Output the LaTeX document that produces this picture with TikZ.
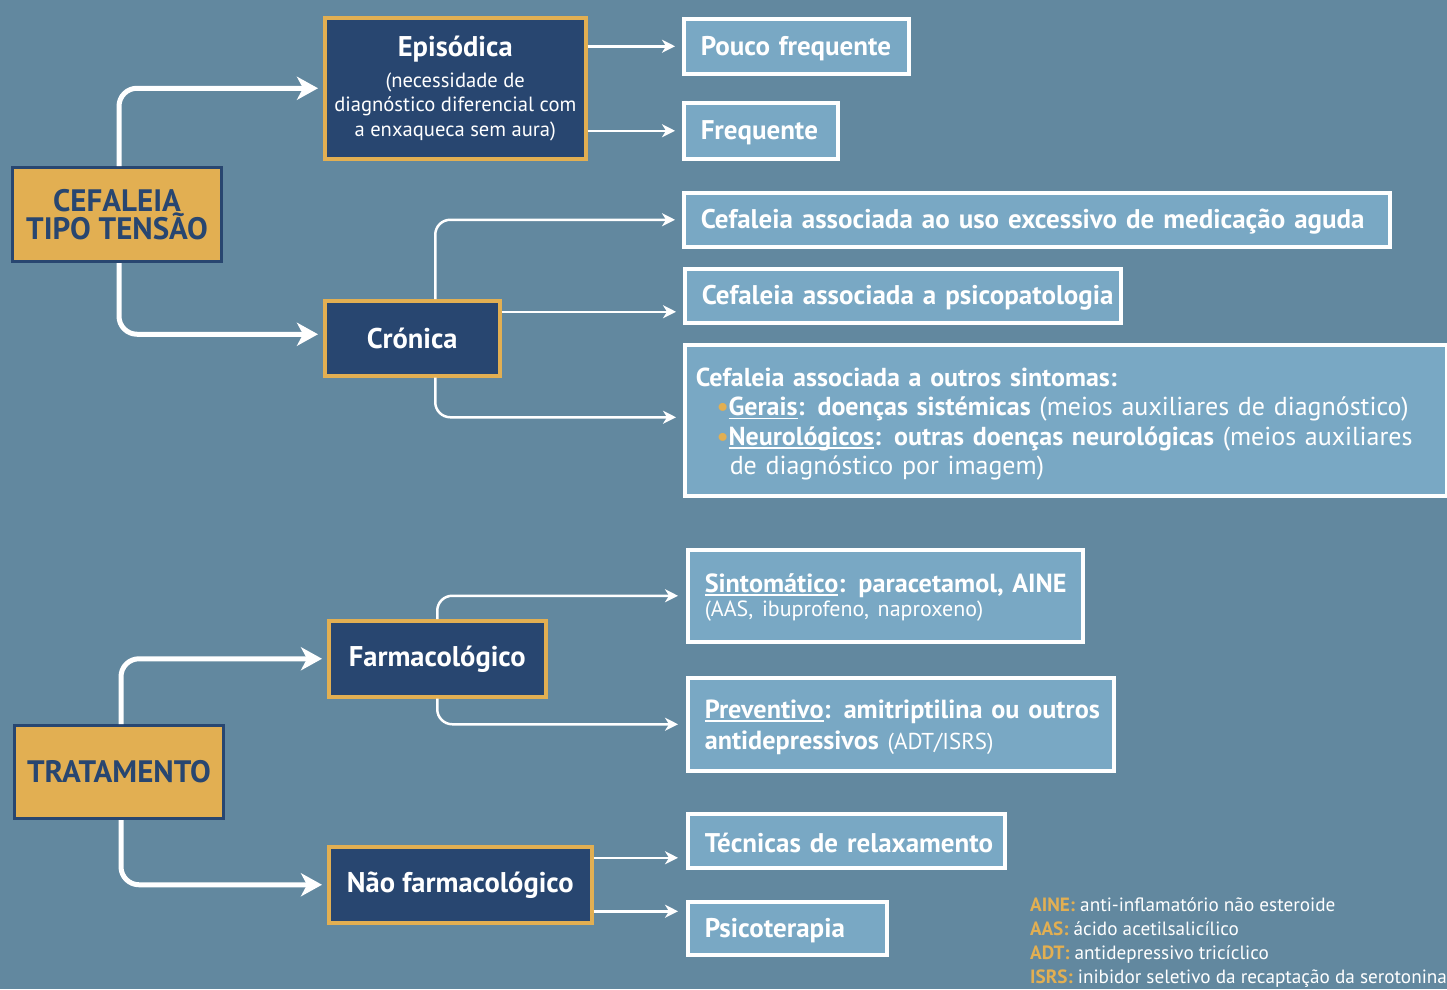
\documentclass[tikz,border=0pt]{standalone}
\usepackage{fontspec}
\setmainfont{PT Sans}
\usetikzlibrary{arrows.meta,calc}
\definecolor{bgc}{HTML}{62889F}
\definecolor{dark}{HTML}{284670}
\definecolor{gold}{HTML}{E2AF52}
\definecolor{lbox}{HTML}{79A8C4}
\tikzset{
  mainbox/.style={draw=dark, line width=3pt, fill=gold, text=dark, anchor=north west, align=center,
    font=\bfseries\fontsize{31}{27}\selectfont, inner sep=0pt},
  subbox/.style={draw=gold, line width=3.5pt, fill=dark, text=white, anchor=north west, align=center,
    font=\bfseries\fontsize{28.5}{30}\selectfont, inner sep=0pt},
  leaf/.style={draw=white, line width=3.5pt, fill=lbox, text=white, anchor=north west, align=left,
    inner xsep=17pt, inner ysep=0pt, font=\bfseries\fontsize{27}{29.5}\selectfont},
  leafm/.style={leaf, font=\bfseries\fontsize{26.2}{29.5}\selectfont},
  bigarrow/.style={draw=white, line width=5pt, rounded corners=18pt, shorten >=5pt,
    -{Stealth[length=21pt,width=23pt,inset=6pt]}},
  smallarrow/.style={draw=white, line width=2.5pt, rounded corners=15pt, shorten >=7pt,
    -{Stealth[length=13pt,width=13pt,inset=4pt]}},
}
\newcommand{\litetxt}[1]{{\mdseries #1}}
\newcommand{\goldbul}{{\color{gold}\textbullet}}
\newcommand{\fixul}[1]{\setbox0\hbox{#1}\rlap{\rule[-3.5pt]{\wd0}{1.3pt}}\box0}
\newcommand{\dnstrut}[1]{\rule{0pt}{#1}}
\begin{document}
\begin{tikzpicture}[x=1pt,y=-1pt]
\useasboundingbox (0,0) rectangle (1447,989);
\fill[bgc] (0,0) rectangle (1447,989);

% main boxes
\node[mainbox, minimum width=209pt, minimum height=94pt] (cef) at (11,166) {CEFALEIA\\TIPO TENSÃO};
\node[mainbox, minimum width=209pt, minimum height=93pt] (trat) at (13,724) {TRATAMENTO};

% sub boxes
\node[subbox, minimum width=261pt, minimum height=141pt, font=\mdseries\fontsize{20.6}{24.5}\selectfont] (epi) at (323,16)
  {{\bfseries\fontsize{28.5}{30}\selectfont Episódica}\\[6pt](necessidade de\\diagnóstico diferencial com\\a enxaqueca sem aura)};
\node[subbox, minimum width=175pt, minimum height=75pt] (cro) at (323,299) {Crónica};
\node[subbox, minimum width=217pt, minimum height=76pt] (far) at (327,619) {Farmacológico};
\node[subbox, minimum width=263pt, minimum height=76pt] (nf) at (327,845) {Não farmacológico};

% leaves
\node[leaf, minimum width=225pt, text width=191pt, minimum height=55pt] (pf) at (682,17) {\dnstrut{23pt}\mbox{Pouco frequente}};
\node[leaf, minimum width=154pt, text width=120pt, minimum height=56pt] (fr) at (682,101) {\dnstrut{23pt}\mbox{Frequente}};
\node[leaf, minimum width=706pt, text width=672pt, minimum height=54pt] (c1) at (682,191) {\dnstrut{23pt}\mbox{Cefaleia associada ao uso excessivo de medicação aguda}};
\node[leaf, minimum width=436pt, text width=402pt, minimum height=54pt] (c2) at (683,267) {\dnstrut{23pt}\mbox{Cefaleia associada a psicopatologia}};
\node[leaf, font=\bfseries\fontsize{26}{29.5}\selectfont, inner xsep=11pt, text width=740pt, minimum height=151pt] (c3) at (683,343)
  {\dnstrut{26pt}Cefaleia associada a outros sintomas:\\
   \hspace*{21pt}\goldbul\fixul{Gerais}: doenças sistémicas \litetxt{(meios auxiliares de diagnóstico)}\\
   \hspace*{21pt}\goldbul\fixul{Neurológicos}: outras doenças neurológicas \litetxt{(meios auxiliares}\\
   \hspace*{34pt}\litetxt{de diagnóstico por imagem)}};
\node[leafm, minimum width=395pt, text width=361pt, minimum height=92pt] (sin) at (686,548)
  {\dnstrut{22pt}\mbox{\fixul{Sintomático}: paracetamol, AINE}\\[-5pt]
   \mdseries\fontsize{22}{24}\selectfont \mbox{(AAS, ibuprofeno, naproxeno)}};
\node[leafm, minimum width=426pt, text width=392pt, minimum height=93pt] (prev) at (686,676)
  {\dnstrut{24pt}\mbox{\fixul{Preventivo}: amitriptilina ou outros}\\[1.5pt]
   \mbox{antidepressivos \litetxt{\fontsize{23}{24}\selectfont (ADT/ISRS)}}};
\node[leaf, minimum width=317pt, text width=283pt, minimum height=54pt] (tec) at (686,812) {\dnstrut{23pt}\mbox{Técnicas de relaxamento}};
\node[leaf, minimum width=199pt, text width=165pt, minimum height=53pt] (psi) at (686,900) {\dnstrut{23pt}\mbox{Psicoterapia}};

% helper coordinates
\coordinate (c2in) at ([yshift=-16pt]c2.west);
\coordinate (tin) at ([yshift=-17pt]tec.west);
\coordinate (pin) at ([yshift=17pt]psi.west);

% thick connectors
\draw[bigarrow] ([xshift=2pt]cef.north) |- (epi.west);
\draw[bigarrow] ([xshift=2pt]cef.south) |- ([yshift=4pt]cro.west);
\draw[bigarrow] ([xshift=2pt]trat.north) |- (far.west);
\draw[bigarrow] ([xshift=2pt]trat.south) |- (nf.west);

% thin connectors
\draw[smallarrow] (epi.east |- pf.west) -- (pf.west);
\draw[smallarrow] (epi.east |- fr.west) -- (fr.west);
\draw[smallarrow] ([xshift=23pt]cro.north) |- (c1.west);
\draw[smallarrow] (cro.east |- c2in) -- (c2in);
\draw[smallarrow] ([xshift=23pt]cro.south) |- ([yshift=3pt]c3.west);
\draw[smallarrow, shorten >=8pt] (far.north) |- (sin.west);
\draw[smallarrow, shorten >=8pt] (far.south) |- (prev.west);
\draw[smallarrow, shorten >=8pt] (nf.east |- tin) -- (tin);
\draw[smallarrow, shorten >=8pt] (nf.east |- pin) -- (pin);

% legend
\node[anchor=north west, align=left, inner sep=0pt, text=white, font=\fontsize{19.2}{24}\selectfont] (leg) at (1030,897)
  {{\color{gold}\bfseries AINE:} anti-inflamatório não esteroide\\
   {\color{gold}\bfseries AAS:} ácido acetilsalicílico\\
   {\color{gold}\bfseries ADT:} antidepressivo tricíclico\\
   {\color{gold}\bfseries ISRS:} inibidor seletivo da recaptação da serotonina};
\end{tikzpicture}
\end{document}
